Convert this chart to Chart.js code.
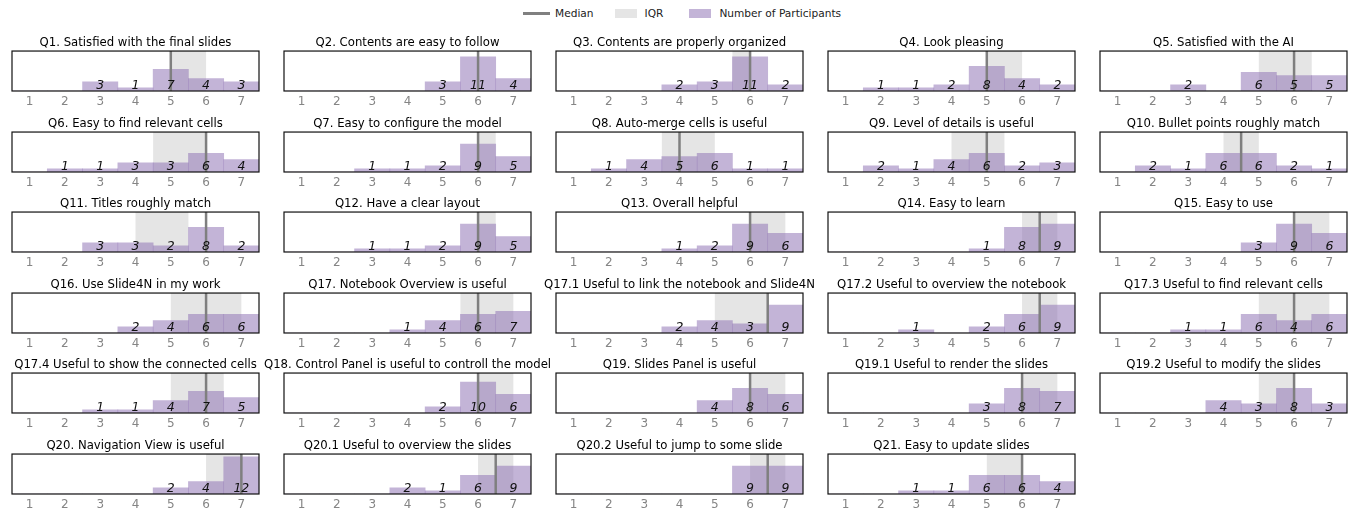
<!DOCTYPE html>
<html>
<head>
<meta charset="utf-8">
<script src="https://cdn.jsdelivr.net/npm/chart.js@4.4.0/dist/chart.umd.min.js"></script>
<style>
  body { margin: 0; background: #fff; width: 1353px; height: 511px; position: relative; overflow: hidden; font-family: "DejaVu Sans", sans-serif; }
  .cell { position: absolute; }
  #legend { position: absolute; left: 523px; top: 6px; height: 14px; display: flex; align-items: center; font-size: 10.6px; color: #222; white-space: nowrap; }
  #legend .line { width: 27px; height: 3px; background: #808080; margin-right: 5px; }
  #legend .box { width: 22px; height: 9px; margin-right: 8px; }
</style>
</head>
<body>
<div id="legend">
  <span class="line"></span><span style="margin-right:21px">Median</span>
  <span class="box" style="background:#e5e5e5"></span><span style="margin-right:26px">IQR</span>
  <span class="box" style="background:rgba(145,118,183,0.55)"></span><span>Number of Participants</span>
</div>
<script>
var scores = ["1", "2", "3", "4", "5", "6", "7"];

var titles = [
  "Q1. Satisfied with the final slides", "Q2. Contents are easy to follow", "Q3. Contents are properly organized", "Q4. Look pleasing", "Q5. Satisfied with the AI",
  "Q6. Easy to find relevant cells", "Q7. Easy to configure the model", "Q8. Auto-merge cells is useful", "Q9. Level of details is useful", "Q10. Bullet points roughly match",
  "Q11. Titles roughly match", "Q12. Have a clear layout", "Q13. Overall helpful", "Q14. Easy to learn", "Q15. Easy to use",
  "Q16. Use Slide4N in my work", "Q17. Notebook Overview is useful", "Q17.1 Useful to link the notebook and Slide4N", "Q17.2 Useful to overview the notebook", "Q17.3 Useful to find relevant cells",
  "Q17.4 Useful to show the connected cells", "Q18. Control Panel is useful to controll the model", "Q19. Slides Panel is useful", "Q19.1 Useful to render the slides", "Q19.2 Useful to modify the slides",
  "Q20. Navigation View is useful", "Q20.1 Useful to overview the slides", "Q20.2 Useful to jump to some slide", "Q21. Easy to update slides"
];

// participants per score 1..7
var counts = [
  [0, 0, 3, 1, 7, 4, 3], [0, 0, 0, 0, 3, 11, 4], [0, 0, 0, 2, 3, 11, 2], [0, 1, 1, 2, 8, 4, 2], [0, 0, 2, 0, 6, 5, 5],
  [0, 1, 1, 3, 3, 6, 4], [0, 0, 1, 1, 2, 9, 5], [0, 1, 4, 5, 6, 1, 1], [0, 2, 1, 4, 6, 2, 3], [0, 2, 1, 6, 6, 2, 1],
  [0, 0, 3, 3, 2, 8, 2], [0, 0, 1, 1, 2, 9, 5], [0, 0, 0, 1, 2, 9, 6], [0, 0, 0, 0, 1, 8, 9], [0, 0, 0, 0, 3, 9, 6],
  [0, 0, 0, 2, 4, 6, 6], [0, 0, 0, 1, 4, 6, 7], [0, 0, 0, 2, 4, 3, 9], [0, 0, 1, 0, 2, 6, 9], [0, 0, 1, 1, 6, 4, 6],
  [0, 0, 1, 1, 4, 7, 5], [0, 0, 0, 0, 2, 10, 6], [0, 0, 0, 0, 4, 8, 6], [0, 0, 0, 0, 3, 8, 7], [0, 0, 0, 4, 3, 8, 3],
  [0, 0, 0, 0, 2, 4, 12], [0, 0, 0, 2, 1, 6, 9], [0, 0, 0, 0, 0, 9, 9], [0, 0, 1, 1, 6, 6, 4]
];

var medians = [5, 6, 6, 5, 6, 6, 6, 4, 5, 4.5, 6, 6, 6, 6.5, 6, 6, 6, 6.5, 6.5, 6, 6, 6, 6, 6, 6, 7, 6.5, 6.5, 6];
var iqrLow  = [5, 6, 5.5, 5, 5, 4.5, 6, 3.5, 4, 4, 4, 6, 6, 6, 6, 5, 5.5, 5, 6, 5, 5, 6, 6, 6, 5, 6, 6, 6, 5];
var iqrHigh = [6, 6, 6, 6, 6.5, 6, 6.5, 5, 5.5, 5, 5.5, 6.5, 7, 7, 7, 7, 7, 6.5, 7, 7, 6.5, 7, 7, 7, 6, 7, 7, 7, 6];

var yMax = 12.9;
var FONT = "DejaVu Sans";
var SIDE = 40; // room left and right of each frame so long titles are not squeezed

var surveyMarks = {
  id: "surveyMarks",
  beforeDatasetsDraw: function (chart, args, opts) {
    var i = opts.q, a = chart.chartArea, xs = chart.scales.x, c = chart.ctx;
    var x1 = xs.getPixelForValue(iqrLow[i] - 1), x2 = xs.getPixelForValue(iqrHigh[i] - 1);
    c.save();
    c.fillStyle = "#e5e5e5";
    c.fillRect(x1, a.top, x2 - x1, a.bottom - a.top);
    c.restore();
  },
  afterDatasetsDraw: function (chart, args, opts) {
    var i = opts.q, a = chart.chartArea, xs = chart.scales.x, ys = chart.scales.y, c = chart.ctx;
    c.save();
    var mx = xs.getPixelForValue(medians[i] - 1);
    c.strokeStyle = "#7f7f7f";
    c.lineWidth = 2.5;
    c.beginPath();
    c.moveTo(mx, a.top);
    c.lineTo(mx, a.bottom);
    c.stroke();

    c.fillStyle = "#111";
    c.font = "italic 12.5px " + FONT;
    c.textAlign = "center";
    c.textBaseline = "alphabetic";
    counts[i].forEach(function (n, j) {
      if (n > 0) c.fillText(String(n), xs.getPixelForValue(j), ys.getPixelForValue(0) - 2.5);
    });

    c.strokeStyle = "#111";
    c.lineWidth = 1.2;
    c.strokeRect(a.left, a.top, a.right - a.left, a.bottom - a.top);
    c.restore();
  }
};

function sideAxis(pos) {
  return {
    position: pos,
    display: true,
    min: 0,
    max: yMax,
    grid: { display: false, drawTicks: false },
    border: { display: false },
    ticks: { display: false },
    afterFit: function (s) { s.width = SIDE; }
  };
}

for (var i = 0; i < titles.length; i++) {
  var col = i % 5, row = Math.floor(i / 5);
  var frameLeft = 12 + 272 * col;
  var frameTop = Math.round(51 + 80.6 * row);

  var cv = document.createElement("canvas");
  cv.className = "cell";
  cv.width = 247 + 2 * SIDE;
  cv.height = 80;
  cv.style.left = (frameLeft - SIDE) + "px";
  cv.style.top = (frameTop - 20) + "px";
  document.body.appendChild(cv);

  new Chart(cv.getContext("2d"), {
    type: "bar",
    data: {
      labels: scores,
      datasets: [{
        label: "Number of Participants",
        data: counts[i],
        yAxisID: "y",
        backgroundColor: "rgba(145,118,183,0.55)",
        borderWidth: 0,
        barPercentage: 1,
        categoryPercentage: 1
      }]
    },
    options: {
      responsive: false,
      animation: false,
      devicePixelRatio: 1,
      layout: { padding: { left: 0, right: 0, top: 5, bottom: 3 } },
      plugins: {
        legend: { display: false },
        tooltip: { enabled: false },
        title: {
          display: true,
          text: titles[i],
          color: "#000",
          font: { family: FONT, size: 11.7, weight: "normal", lineHeight: 1.2 },
          padding: { top: 0, bottom: 1 }
        },
        surveyMarks: { q: i }
      },
      scales: {
        x: {
          grid: { display: false, drawTicks: false },
          border: { display: false },
          ticks: {
            color: "#858585",
            padding: 4,
            autoSkip: false,
            maxRotation: 0,
            font: { family: FONT, size: 12, lineHeight: 1.2 }
          },
          afterFit: function (s) { s.height = 17; }
        },
        y: sideAxis("left"),
        yRight: sideAxis("right")
      }
    },
    plugins: [surveyMarks]
  });
}
</script>
</body>
</html>
